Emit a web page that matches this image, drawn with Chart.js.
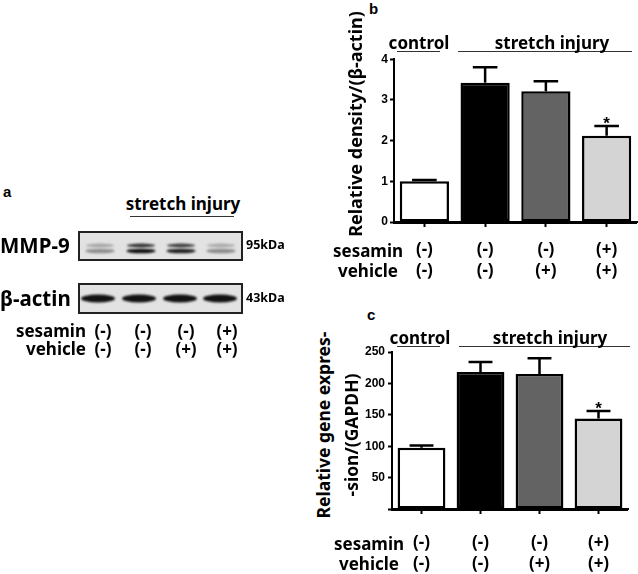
<!DOCTYPE html>
<html>
<head>
<meta charset="utf-8">
<script src="https://cdn.jsdelivr.net/npm/chart.js@4.4.1/dist/chart.umd.min.js"></script>
<style>
  body { margin: 0; background: #fff; width: 638px; height: 574px; position: relative; overflow: hidden;
         font-family: "Noto Sans", sans-serif; font-weight: bold; color: #000; }
  .t { position: absolute; white-space: nowrap; line-height: 1; }
  .hd { font-size: 17px; }
  .ar { font-family: "Liberation Sans", Arial, sans-serif; }
  .ul { position: absolute; height: 0; border-top: 1.5px solid #333; }
  canvas { position: absolute; }
</style>
</head>
<body>
<canvas id="blot" width="200" height="100" style="left:60px;top:222px"></canvas>
<canvas id="chartB" width="298" height="240" style="left:340px;top:50px"></canvas>
<canvas id="chartC" width="298" height="234" style="left:340px;top:340px"></canvas>

<div class="ul" style="left:130px;top:216px;width:104px"></div>
<div class="ul" style="left:397px;top:51px;width:43px"></div>
<div class="ul" style="left:458px;top:51px;width:174px"></div>
<div class="ul" style="left:397px;top:346px;width:43px"></div>
<div class="ul" style="left:459px;top:346px;width:171px"></div>

<script>
// group headers and bar labels
const groups = ['control', 'stretch injury'];
const rowNames = ['sesamin', 'vehicle'];
const sesamin = ['(-)', '(-)', '(-)', '(+)'];
const vehicle = ['(-)', '(-)', '(+)', '(+)'];

// b: MMP-9 band density, c: MMP-9 mRNA
const densityMean = [1.00, 3.42, 3.21, 2.12];
const densityErr  = [0.03, 0.38, 0.25, 0.24];
const densityTicks = [0, 1, 2, 3, 4];
const geneMean = [97.5, 218, 215, 144];
const geneErr  = [3.5, 16, 25, 12];
const geneTicks = [50, 100, 150, 200, 250];
const marks = ['', '', '', '*'];

const barFills = ['#ffffff', '#000000', '#636363', '#d4d4d4'];

function put(text, x, y, cls, align) {
  const d = document.createElement('div');
  d.className = 't ' + (cls || '');
  d.textContent = text;
  d.style.left = x + 'px';
  d.style.top = y + 'px';
  const tx = align === 'r' ? '-100%' : align === 'l' ? '0' : '-50%';
  d.style.transform = `translate(${tx},-50%)`;
  document.body.appendChild(d);
  return d;
}
function putRot(text, x, y, size) {
  const d = document.createElement('div');
  d.className = 't';
  d.textContent = text;
  d.style.fontSize = size + 'px';
  d.style.left = x + 'px';
  d.style.top = y + 'px';
  d.style.transform = 'translate(-50%,-50%) rotate(-90deg)';
  document.body.appendChild(d);
}

// ---- panel a texts
put('a', 3, 191, 'ar', 'l').style.fontSize = '15px';
put('stretch injury', 183, 203, 'hd', 'c');
put('MMP-9', 0, 245, '', 'l').style.fontSize = '20.5px';
put('β-actin', 0, 298, '', 'l').style.fontSize = '20.5px';
put('95kDa', 246, 245, '', 'l').style.fontSize = '12.5px';
put('43kDa', 246, 298, '', 'l').style.fontSize = '12.5px';
const laneX = [103, 143, 186, 227];
[sesamin, vehicle].forEach((row, r) => {
  const y = r ? 348 : 330;
  put(rowNames[r], 86, y, 'hd', 'r');
  row.forEach((s, i) => put(s, laneX[i], y, 'hd', 'c'));
});

// ---- panel b / c texts
put('b', 369, 8, 'ar', 'l').style.fontSize = '15px';
put('c', 367, 314, 'ar', 'l').style.fontSize = '15px';
put(groups[0], 419, 42, 'hd', 'c');
put(groups[1], 552, 42, 'hd', 'c');
put(groups[0], 420, 337, 'hd', 'c');
put(groups[1], 550, 337, 'hd', 'c');
put(rowNames[0], 368, 250, 'hd', 'c');
put(rowNames[1], 368, 270, 'hd', 'c');
put(rowNames[0], 369, 543, 'hd', 'c');
put(rowNames[1], 369, 563, 'hd', 'c');
putRot('Relative density/(β-actin)', 355, 124, 18);
putRot('Relative gene expres-', 324, 425, 17.5);
putRot('-sion/(GAPDH)', 352, 435, 17.5);

// ---- western blot picture
(function drawBlot() {
  const ctx = document.getElementById('blot').getContext('2d');
  ctx.translate(-60, -222);
  const boxes = [[79, 232, 163, 28], [79, 284, 163, 29]];
  boxes.forEach(([x, y, w, h]) => {
    ctx.fillStyle = '#e2e2e2';
    ctx.fillRect(x, y, w, h);
  });
  ctx.filter = 'blur(0.9px)';
  const mmpX = [100, 141, 181, 221];
  const upper = ['#a6a6a6', '#333333', '#3f3f3f', '#ababab'];
  const lower = ['#8e8e8e', '#111111', '#222222', '#8c8c8c'];
  mmpX.forEach((cx, i) => {
    ctx.fillStyle = upper[i];
    ctx.beginPath(); ctx.ellipse(cx, 245.5, 14, 1.9, 0, 0, Math.PI * 2); ctx.fill();
    ctx.fillStyle = lower[i];
    ctx.beginPath(); ctx.ellipse(cx, 251, 14.5, 2.3, 0, 0, Math.PI * 2); ctx.fill();
  });
  const actX = [98, 139, 180, 220];
  actX.forEach(cx => {
    ctx.fillStyle = '#121212';
    ctx.beginPath(); ctx.ellipse(cx, 298.5, 17, 4, 0, 0, Math.PI * 2); ctx.fill();
  });
  ctx.filter = 'none';
  ctx.strokeStyle = '#222';
  ctx.lineWidth = 2;
  boxes.forEach(([x, y, w, h]) => ctx.strokeRect(x, y, w, h));
})();

// ---- error bars + significance marks
const errPlugin = {
  id: 'errbars',
  afterDatasetsDraw(chart) {
    const { ctx, chartArea, scales: { y } } = chart;
    const ds = chart.data.datasets[0];
    ctx.save();
    // keep the baseline solid under the bars
    ctx.fillStyle = '#000';
    ctx.fillRect(chartArea.left - 1, chartArea.bottom - 1, chartArea.right - chartArea.left + 1, 3);
    chart.getDatasetMeta(0).data.forEach((bar, i) => {
      const top = y.getPixelForValue(ds.data[i]);
      const end = y.getPixelForValue(ds.data[i] + ds.err[i]);
      const hw = bar.width / 4;
      ctx.strokeStyle = '#000';
      ctx.lineWidth = 2.5;
      ctx.beginPath();
      ctx.moveTo(bar.x, top); ctx.lineTo(bar.x, end);
      ctx.moveTo(bar.x - hw, end); ctx.lineTo(bar.x + hw, end);
      ctx.stroke();
      if (marks[i]) {
        ctx.font = 'bold 17px "Liberation Sans"';
        ctx.textAlign = 'center';
        ctx.textBaseline = 'alphabetic';
        ctx.fillText(marks[i], bar.x, end + 3);
      }
    });
    ctx.restore();
  }
};

function barChart(id, mean, err, yScale, box) {
  return new Chart(document.getElementById(id), {
    type: 'bar',
    data: {
      labels: sesamin.map((s, i) => [s, vehicle[i]]),
      datasets: [{
        data: mean, err: err,
        backgroundColor: barFills, borderColor: '#000', borderWidth: 2.5, borderSkipped: false,
        barPercentage: 0.9, categoryPercentage: 0.9
      }]
    },
    options: {
      responsive: false, animation: false, devicePixelRatio: 1,
      layout: { padding: { top: box.top, right: box.right, left: 0, bottom: 0 } },
      plugins: { legend: { display: false }, tooltip: { enabled: false } },
      scales: {
        x: {
          grid: { offset: false, drawOnChartArea: false, tickLength: 5, tickWidth: 2, tickColor: '#000' },
          border: { color: '#000', width: 2 },
          ticks: { color: '#000', padding: box.xpad,
                   font: { family: '"Noto Sans"', size: 17, weight: 'bold', lineHeight: 1.22 } },
          afterFit(s) { s.height = box.xh; }
        },
        y: Object.assign({
          grid: { drawOnChartArea: false, tickLength: 4, tickWidth: 2, tickColor: '#000' },
          border: { color: '#000', width: 2 },
          afterFit(s) { s.width = box.yw; }
        }, yScale)
      }
    },
    plugins: [errPlugin]
  });
}

const tickFont = { family: '"Liberation Sans", Arial', size: 12, weight: 'bold' };

barChart('chartB', densityMean, densityErr, {
  min: densityTicks[0], max: densityTicks[densityTicks.length - 1],
  ticks: { stepSize: 1, color: '#000', padding: 2, font: tickFont }
}, { top: 9, right: 1, xh: 68, yw: 54, xpad: 13 });

barChart('chartC', geneMean, geneErr, {
  min: 0, max: geneTicks[geneTicks.length - 1],
  ticks: { stepSize: 25, color: '#000', padding: 3, font: tickFont,
           callback: v => geneTicks.includes(v) ? String(v) : '' }
}, { top: 12, right: 10, xh: 65, yw: 52, xpad: 19 });
</script>
</body>
</html>
